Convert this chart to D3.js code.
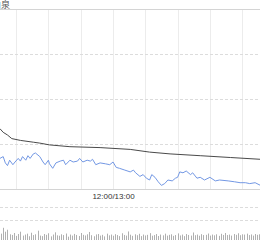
<!DOCTYPE html>
<html>
<head>
<meta charset="utf-8">
<script src="https://cdn.jsdelivr.net/npm/d3@7"></script>
<style>
  html, body { margin: 0; padding: 0; background: #fff; }
  svg { display: block; font-family: "Liberation Sans", Arial, sans-serif; }
</style>
</head>
<body>
<svg id="chart" width="260" height="240"></svg>
<script>
// HK session: 9:30-12:00, 13:00-16:00 -> 330 trading minutes
var title = "农夫山泉";
var gridMinutes = [30, 60, 90, 120, 150, 180, 210, 240, 270, 300];
var labelMinutes = [150];
var labelText = ["12:00/13:00"];
var priceTicks = [39.0, 39.5, 40.0, 40.5, 41.0];

// price line (blue), minute index / price
var priceMin = [45, 48, 50, 52, 54, 57, 59, 62, 64, 66, 69, 71, 73, 76, 78, 82, 85, 87, 90, 91,
  94, 97, 101, 104, 106, 110, 113, 117, 119, 122, 126, 129, 131, 134, 138, 143, 147, 150, 153, 156,
  161, 166, 169, 171, 175, 178, 181, 184, 186, 189, 192, 195, 198, 201, 205, 208, 210, 212, 215, 218,
  222, 224, 228, 231, 235, 240, 245, 249, 257, 263, 268, 273, 277, 282, 287];
var priceVal = [39.34, 39.36, 39.29, 39.26, 39.32, 39.27, 39.30, 39.34, 39.31, 39.36, 39.32, 39.37, 39.34, 39.39, 39.40, 39.36, 39.30, 39.27, 39.32, 39.28,
  39.23, 39.29, 39.31, 39.32, 39.27, 39.32, 39.30, 39.31, 39.34, 39.30, 39.32, 39.31, 39.33, 39.27, 39.29, 39.28, 39.27, 39.30, 39.24, 39.23,
  39.21, 39.19, 39.21, 39.18, 39.14, 39.16, 39.12, 39.10, 39.16, 39.13, 39.08, 39.04, 39.06, 39.10, 39.09, 39.12, 39.13, 39.19, 39.18, 39.20,
  39.16, 39.18, 39.12, 39.13, 39.10, 39.13, 39.09, 39.10, 39.09, 39.08, 39.07, 39.07, 39.06, 39.07, 39.04];

// average price line (dark)
var avgMin = [40, 45, 48, 52, 56, 64, 76, 82, 91, 110, 138, 166, 184, 203, 231, 259, 287];
var avgVal = [39.72, 39.67, 39.63, 39.60, 39.56, 39.54, 39.52, 39.51, 39.49, 39.47, 39.46, 39.44, 39.41, 39.39, 39.37, 39.35, 39.33];

// volume, one bar every 2 minutes from minute 44
var volStart = 44;
var volVal = [130, 95, 140, 110, 125, 90, 85, 100, 78, 92, 110, 80, 88, 95, 75, 102, 84, 90, 118, 80,
  76, 92, 86, 98, 74, 88, 105, 82, 79, 90, 84, 96, 72, 88, 80, 93, 85, 77, 100, 86,
  81, 90, 108, 83, 75, 89, 92, 80, 86, 74, 95, 82, 88, 79, 91, 84, 76, 98, 85, 80,
  112, 87, 78, 90, 83, 94, 76, 88, 81, 86, 99, 79, 84, 92, 77, 88, 82, 95, 80, 86,
  90, 78, 84, 97, 81, 88, 76, 92, 85, 80, 104, 83, 88, 79, 91, 84, 86, 96, 80, 88,
  82, 90, 78, 94, 85, 100, 84, 88, 80, 92, 86, 98, 83, 90, 88, 95, 84, 89, 80, 92, 86, 90];
var volTicks = [200, 300];

var svg = d3.select("#chart");

var step = 32.3 / 30;
var x = d3.scaleLinear().domain([0, 330]).range([113 - 150 * step, 113 + 180 * step]);
var y = d3.scaleLinear().domain([39, 41]).range([189, 9]);
var yv = d3.scaleLinear().domain([0, 300]).range([246, 207]);

// vertical grid
svg.append("g").selectAll("line")
  .data(gridMinutes)
  .enter().append("line")
    .attr("x1", function(d) { return Math.round(x(d)) + 0.5; })
    .attr("x2", function(d) { return Math.round(x(d)) + 0.5; })
    .attr("y1", y(41))
    .attr("y2", y(39))
    .attr("stroke", "#ececec");

// horizontal price grid
svg.append("g").selectAll("line")
  .data(priceTicks)
  .enter().append("line")
    .attr("x1", 0).attr("x2", 260)
    .attr("y1", function(d) { return Math.round(y(d)) + 0.5; })
    .attr("y2", function(d) { return Math.round(y(d)) + 0.5; })
    .attr("stroke", function(d, i) { return (i == 0 || i == priceTicks.length - 1) ? "#d4d4d4" : "#dcdcdc"; })
    .attr("stroke-dasharray", function(d, i) { return (i == 0 || i == priceTicks.length - 1) ? null : "3,2"; });

// volume grid
svg.append("g").selectAll("line")
  .data(volTicks)
  .enter().append("line")
    .attr("x1", 0).attr("x2", 260)
    .attr("y1", function(d) { return Math.round(yv(d)) + 0.5; })
    .attr("y2", function(d) { return Math.round(yv(d)) + 0.5; })
    .attr("stroke", "#dcdcdc")
    .attr("stroke-dasharray", "3,2");

// time axis label
svg.append("g")
  .attr("transform", "translate(0," + y(39) + ")")
  .call(d3.axisBottom(x).tickValues(labelMinutes).tickSize(0).tickPadding(4)
    .tickFormat(function(d, i) { return labelText[i]; }))
  .call(function(g) { g.select(".domain").remove(); })
  .selectAll("text")
    .attr("font-size", 8)
    .attr("font-family", "Liberation Sans, Arial, sans-serif")
    .attr("fill", "#333");

// average line
var line = d3.line()
  .x(function(d) { return x(d[0]); })
  .y(function(d) { return y(d[1]); });
svg.append("path")
  .datum(d3.zip(avgMin, avgVal))
  .attr("d", line)
  .attr("fill", "none")
  .attr("stroke", "#4a4a4a")
  .attr("stroke-width", 1);

// price line
svg.append("path")
  .datum(d3.zip(priceMin, priceVal))
  .attr("d", line)
  .attr("fill", "none")
  .attr("stroke", "#7398e4")
  .attr("stroke-width", 1);

// volume bars
svg.append("g").selectAll("rect")
  .data(volVal)
  .enter().append("rect")
    .attr("x", function(d, i) { return Math.round(x(volStart + i * 2)); })
    .attr("width", 1)
    .attr("y", function(d) { return yv(d); })
    .attr("height", function(d) { return yv(0) - yv(d); })
    .attr("fill", "#b0b0b0");

// title, cut at the left edge as in the reference
svg.append("text")
  .attr("x", 10)
  .attr("y", 8)
  .attr("text-anchor", "end")
  .attr("font-size", 9)
  .attr("font-family", "Noto Sans CJK SC, sans-serif")
  .attr("fill", "#555")
  .text(title);
</script>
</body>
</html>
